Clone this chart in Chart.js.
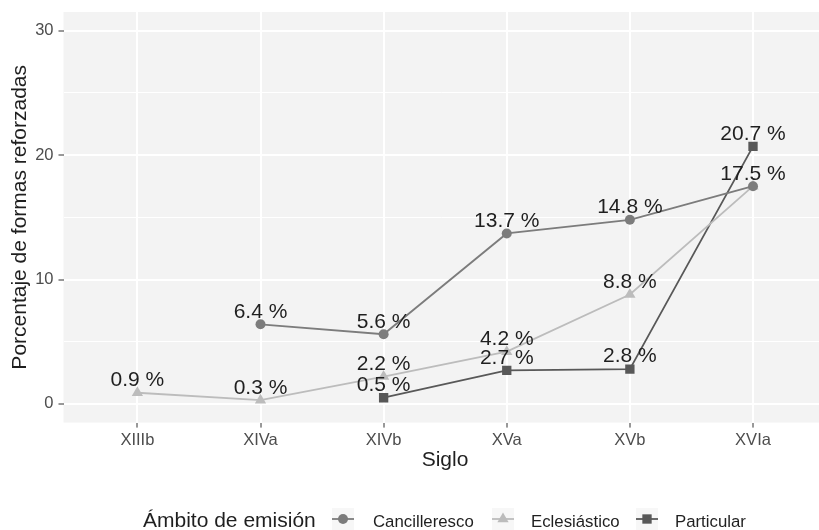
<!DOCTYPE html>
<html>
<head>
<meta charset="utf-8">
<script src="https://cdn.jsdelivr.net/npm/chart.js@4/dist/chart.umd.min.js"></script>
<style>
  html, body { margin: 0; padding: 0; background: #fff; }
  #wrap { width: 819px; height: 530px; }
</style>
</head>
<body>
<div id="wrap"><canvas id="chart" width="819" height="530"></canvas></div>
<script>
// data
const siglos = ['XIIIb', 'XIVa', 'XIVb', 'XVa', 'XVb', 'XVIa'];
const cancilleresco = [null, 6.4, 5.6, 13.7, 14.8, 17.5];
const eclesiastico = [0.9, 0.3, 2.2, 4.2, 8.8, 17.5];
const particular = [null, null, 0.5, 2.7, 2.8, 20.7];
const yMajor = [0, 10, 20, 30];
const yMinor = [5, 15, 25];
const ambitos = ['Cancilleresco', 'Eclesiástico', 'Particular'];

const FONT = '"Liberation Sans", Arial, Helvetica, sans-serif';
const colors = ['#7c7c7c', '#bcbcbc', '#585858'];
const shapes = ['circle', 'triangle', 'rect'];
const radii = [5, 6.5, 6.6];
const panelBg = '#f3f3f3';

function toPoints(values) {
    return values.map((v, i) => ({ x: i, y: v })).filter(p => p.y !== null);
}

const seriesValues = [cancilleresco, eclesiastico, particular];

const decorations = {
    id: 'decorations',
    beforeDraw(chart) {
        const { ctx, chartArea: a } = chart;
        ctx.save();
        ctx.fillStyle = panelBg;
        ctx.fillRect(a.left, a.top, a.right - a.left, a.bottom - a.top);
        ctx.restore();
    },
    afterDraw(chart) {
        const { ctx } = chart;
        const xs = chart.scales.x;
        const ys = chart.scales.y;
        ctx.save();

        // value labels (identical labels at the same spot are drawn once)
        ctx.fillStyle = '#1f1f1f';
        ctx.font = '21px ' + FONT;
        ctx.textAlign = 'center';
        ctx.textBaseline = 'middle';
        const drawn = new Set();
        seriesValues.forEach(values => {
            values.forEach((v, i) => {
                if (v === null) return;
                const key = i + ':' + v;
                if (drawn.has(key)) return;
                drawn.add(key);
                ctx.fillText(v.toFixed(1) + ' %', xs.getPixelForValue(i), ys.getPixelForValue(v + 1));
            });
        });

        // axis titles
        ctx.textBaseline = 'alphabetic';
        ctx.fillText('Siglo', 445, 466);
        ctx.save();
        ctx.translate(26, (chart.chartArea.top + chart.chartArea.bottom) / 2);
        ctx.rotate(-Math.PI / 2);
        ctx.fillText('Porcentaje de formas reforzadas', 0, 0);
        ctx.restore();

        // legend
        ctx.textAlign = 'left';
        ctx.fillText('Ámbito de emisión', 143, 527);
        const keyX = [343, 503, 647];
        const textX = [373, 531, 675];
        const keyY = 519;
        ctx.font = '16.8px ' + FONT;
        ambitos.forEach((name, k) => {
            ctx.fillStyle = '#f7f7f7';
            ctx.fillRect(keyX[k] - 11, keyY - 11, 22, 22);
            ctx.strokeStyle = colors[k];
            ctx.lineWidth = 1.8;
            ctx.beginPath();
            ctx.moveTo(keyX[k] - 11, keyY);
            ctx.lineTo(keyX[k] + 11, keyY);
            ctx.stroke();
            ctx.fillStyle = colors[k];
            Chart.helpers.drawPoint(ctx, { pointStyle: shapes[k], radius: radii[k], borderWidth: 0, rotation: 0 }, keyX[k], keyY);
            ctx.fillStyle = '#1f1f1f';
            ctx.fillText(name, textX[k], 527);
        });
        ctx.restore();
    }
};

new Chart(document.getElementById('chart').getContext('2d'), {
    type: 'line',
    data: {
        datasets: ambitos.map((name, k) => ({
            label: name,
            data: toPoints(seriesValues[k]),
            borderColor: colors[k],
            backgroundColor: colors[k],
            borderWidth: 1.8,
            pointStyle: shapes[k],
            pointRadius: radii[k],
            pointBorderWidth: 0,
            pointBackgroundColor: colors[k],
            tension: 0,
            order: k
        }))
    },
    options: {
        responsive: false,
        animation: false,
        devicePixelRatio: 1,
        layout: { autoPadding: false, padding: { top: 12, left: 0, right: 0, bottom: 0 } },
        plugins: {
            legend: { display: false },
            tooltip: { enabled: false }
        },
        scales: {
            x: {
                type: 'linear',
                min: -0.6,
                max: 5.536,
                afterBuildTicks: s => { s.ticks = siglos.map((_, i) => ({ value: i })); },
                afterFit: s => {
                    s.height = 107.4;
                    s.paddingLeft = 0;
                    s.paddingRight = 0;
                },
                ticks: {
                    callback: v => siglos[v],
                    font: { family: FONT, size: 16.5 },
                    color: '#4d4d4d',
                    padding: 3,
                    maxRotation: 0,
                    autoSkip: false
                },
                grid: {
                    color: '#ffffff',
                    lineWidth: 2,
                    tickColor: '#333333',
                    tickLength: 5,
                    tickWidth: 1
                },
                border: { display: false }
            },
            y: {
                min: -1.5,
                max: 31.5,
                afterBuildTicks: s => { s.ticks = yMajor.concat(yMinor).sort((a, b) => a - b).map(v => ({ value: v })); },
                afterFit: s => {
                    s.width = 63.5;
                    s.paddingTop = 0;
                    s.paddingBottom = 0;
                },
                ticks: {
                    callback: v => yMajor.includes(v) ? String(v) : '',
                    font: { family: FONT, size: 16.5 },
                    color: '#4d4d4d',
                    padding: 5
                },
                grid: {
                    color: '#ffffff',
                    lineWidth: c => yMajor.includes(c.tick.value) ? 2 : 1,
                    tickColor: c => yMajor.includes(c.tick.value) ? '#333333' : 'rgba(0,0,0,0)',
                    tickLength: 5,
                    tickWidth: 1
                },
                border: { display: false }
            }
        }
    },
    plugins: [decorations]
});
</script>
</body>
</html>
